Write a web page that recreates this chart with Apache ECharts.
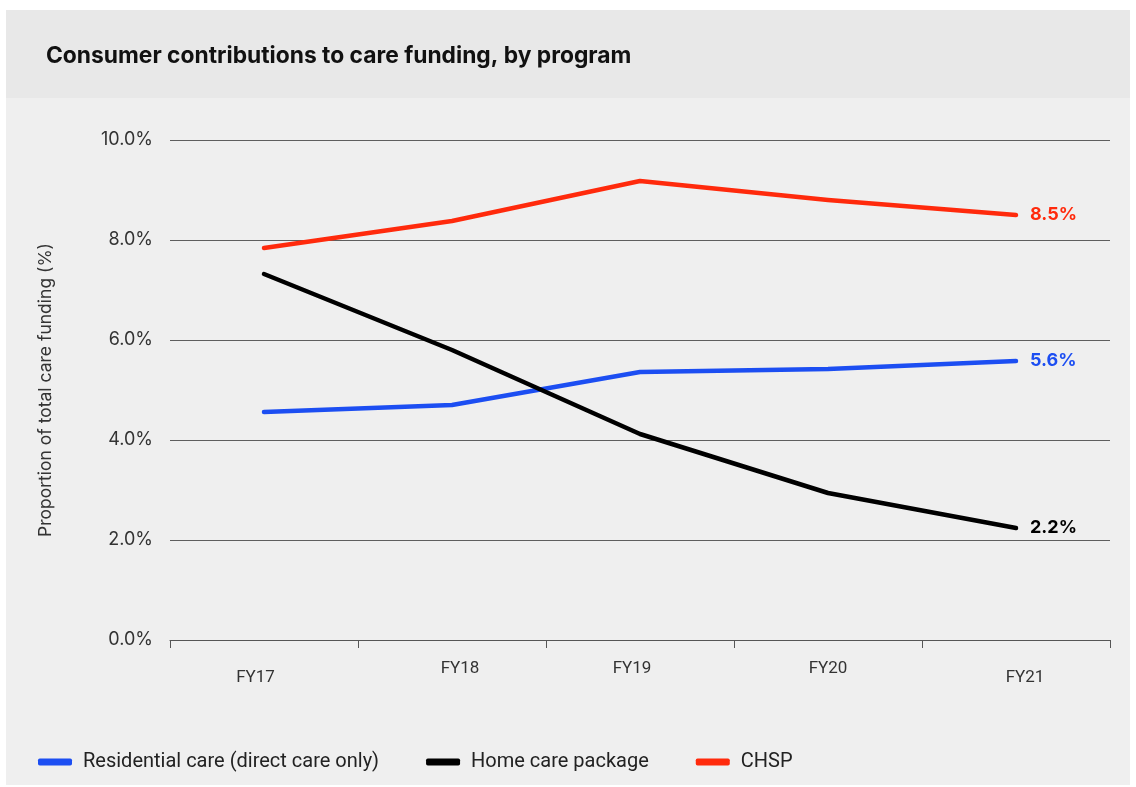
<!DOCTYPE html>
<html lang="en">
<head>
    <meta charset="UTF-8">
    <title>consumer contributions</title>
    <script src="https://cdn.jsdelivr.net/npm/echarts@6/dist/echarts.min.js"></script>
    <style>
        html, body { margin: 0; padding: 0; background: #fff; }
        #chart_line { width: 1136px; height: 787px; }
    </style>
</head>
<body>
<div id="chart_line"></div>
<script>
    var years = ['FY17', 'FY18', 'FY19', 'FY20', 'FY21'];
    var residential = [4.56, 4.70, 5.36, 5.42, 5.58];
    var homeCare = [7.32, 5.80, 4.12, 2.94, 2.24];
    var chsp = [7.84, 8.38, 9.18, 8.80, 8.50];
    var yTicks = [0, 2, 4, 6, 8, 10];

    var blue = '#1c4ef2', black = '#000000', red = '#ff2a0c';

    function line(name, data, color) {
        return {
            name: name,
            type: 'line',
            data: data,
            symbol: 'none',
            lineStyle: { width: 4.5, color: color, cap: 'round', join: 'round' },
            itemStyle: { color: color },
            endLabel: {
                show: true,
                distance: 14,
                color: color,
                fontFamily: 'Inter',
                fontWeight: 'bold',
                fontSize: 18,
                formatter: function (p) { return p.value.toFixed(1) + '%'; }
            }
        };
    }

    // the x labels sit a little off their band centres in the original
    var labelFont = { fontFamily: 'Roboto', fontSize: 17, color: '#333' };
    function shifted(pad) { return Object.assign({ padding: pad }, labelFont); }

    var option = {
        animation: false,
        backgroundColor: '#ffffff',
        graphic: [
            { type: 'rect', shape: { x: 6, y: 10, width: 1124, height: 775 }, style: { fill: '#efefef' }, z: -10 },
            { type: 'rect', shape: { x: 6, y: 10, width: 1124, height: 88 }, style: { fill: '#e8e8e8' }, z: -9 }
        ],
        title: {
            text: 'Consumer contributions to care funding, by program',
            left: 41,
            top: 40,
            textStyle: { fontFamily: 'Inter', fontWeight: 'bold', fontSize: 22.8, color: '#111' }
        },
        legend: {
            left: 33,
            top: 747,
            itemWidth: 34,
            itemHeight: 7,
            itemGap: 47,
            icon: 'roundRect',
            textStyle: { fontFamily: 'Roboto', fontSize: 20, color: '#222', padding: [0, 0, 0, 6] },
            data: ['Residential care (direct care only)', 'Home care package', 'CHSP']
        },
        grid: { left: 170, right: 26, top: 140, bottom: 147 },
        xAxis: {
            type: 'category',
            data: years,
            boundaryGap: true,
            axisLine: { lineStyle: { color: '#555', width: 1 } },
            axisTick: { show: true, length: 8, lineStyle: { color: '#555' } },
            axisLabel: Object.assign({
                margin: 20,
                formatter: function (v, i) {
                    return '{s' + i + '|' + v + '}';
                },
                rich: {
                    s0: shifted([9, 17, 0, 0]),
                    s1: shifted([0, 0, 0, 16]),
                    s2: shifted([0, 16, 0, 0]),
                    s3: shifted([0, 0, 0, 0]),
                    s4: shifted([9, 0, 0, 18])
                }
            }, labelFont)
        },
        yAxis: {
            type: 'value',
            min: yTicks[0],
            max: yTicks[yTicks.length - 1],
            interval: 2,
            name: 'Proportion of total care funding (%)',
            nameLocation: 'middle',
            nameGap: 115,
            nameTextStyle: { fontFamily: 'Inter', fontSize: 17.5, color: '#333' },
            axisLine: { show: false },
            axisTick: { show: false },
            splitLine: { lineStyle: { color: '#5e5e5e', width: 1 } },
            axisLabel: {
                margin: 17,
                fontFamily: 'Inter',
                fontSize: 18,
                color: '#333',
                formatter: function (v) { return v.toFixed(1) + '%'; }
            }
        },
        series: [
            line('Residential care (direct care only)', residential, blue),
            line('Home care package', homeCare, black),
            line('CHSP', chsp, red)
        ]
    };

    var chart_line = echarts.init(document.getElementById('chart_line'));
    chart_line.setOption(option);
</script>
</body>
</html>
